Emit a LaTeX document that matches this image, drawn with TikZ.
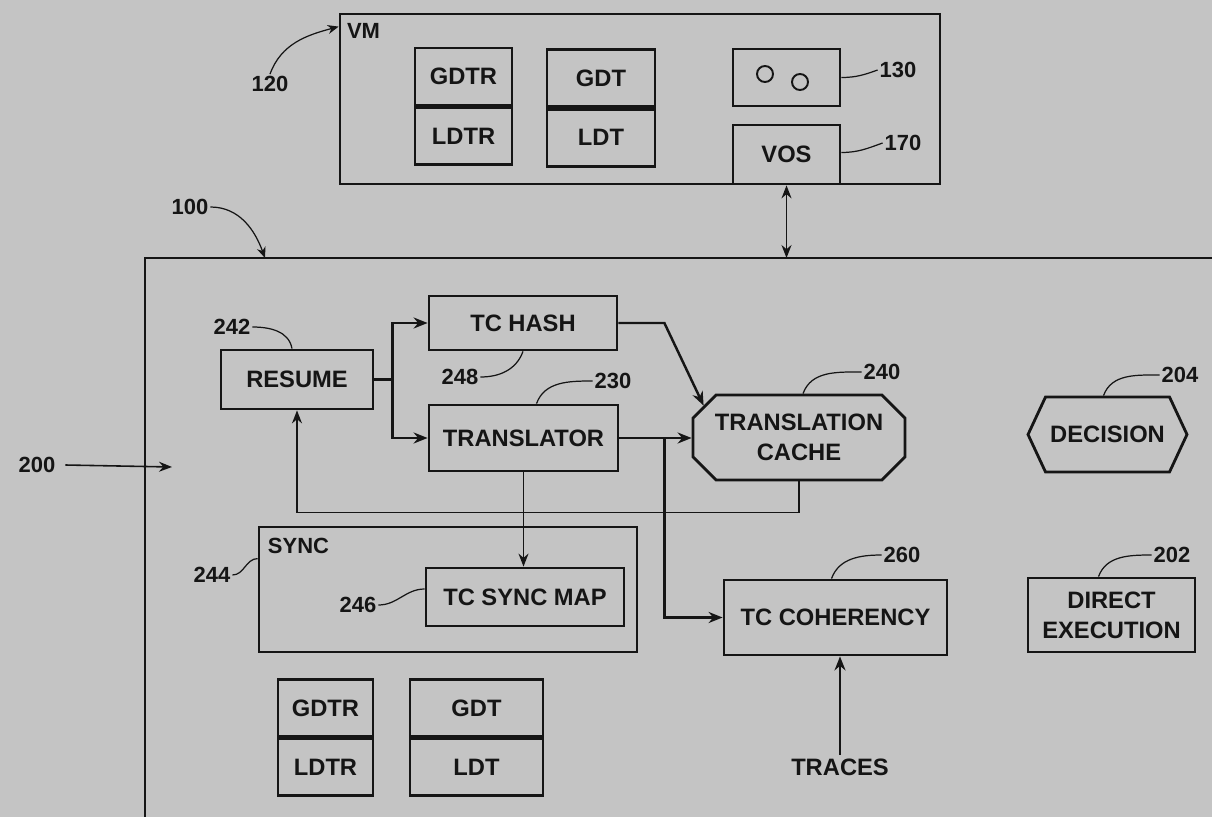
\documentclass[tikz,border=0pt]{standalone}
\usepackage{fontspec}
\setmainfont{Liberation Sans}
\usetikzlibrary{arrows.meta, calc, positioning, shapes.misc, shapes.symbols}
\definecolor{ScanGray}{HTML}{C4C4C4}
\definecolor{InkBlack}{HTML}{151515}

\tikzset{
  box/.style={draw=InkBlack, line width=1.6pt, inner sep=0pt, align=center,
    text=InkBlack, font=\fontsize{13.5}{17}\selectfont\bfseries},
  reg/.style={box, minimum height=1.14cm},
  num/.style={text=InkBlack, font=\fontsize{12.5}{14}\selectfont\bfseries, inner sep=1pt},
  conn/.style={draw=InkBlack, line width=1.4pt, -{Stealth[length=0.28cm,width=0.22cm]}},
  wire/.style={draw=InkBlack, line width=0.9pt, -{Stealth[length=0.26cm,width=0.2cm]}},
  leader/.style={draw=InkBlack, line width=0.7pt},
}

\begin{document}
\begin{tikzpicture}[x=0.02cm, y=-0.02cm]
    % Scan background
    \fill[ScanGray] (0,0) rectangle (1212,817);
    \useasboundingbox (0,0) rectangle (1212,817);

    % VM block
    \node[box, minimum width=12cm, minimum height=3.4cm] (vm) at (640,99) {};
    \node[anchor=north west, inner sep=0pt, text=InkBlack,
        font=\fontsize{12.5}{15}\selectfont\bfseries] (vmlbl)
        at ($(vm.north west)+(8,10)$) {VM};
    \node[reg, minimum width=1.94cm] (gdtrA) at (463.5,76.5) {GDTR};
    \node[reg, minimum width=1.94cm, below=0pt of gdtrA] (ldtrA) {LDTR};
    \node[reg, minimum width=2.16cm] (gdtA) at (601,78) {GDT};
    \node[reg, minimum width=2.16cm, below=0pt of gdtA] (ldtA) {LDT};
    \node[box, minimum width=2.14cm, minimum height=1.14cm] (circ) at (786.5,77.5) {};
    \draw[InkBlack, line width=1.1pt] ($(circ.center)+(-21.5,-3.5)$) circle (0.16cm);
    \draw[InkBlack, line width=1.1pt] ($(circ.center)+(13.5,4.5)$) circle (0.16cm);
    \node[box, minimum width=2.14cm, minimum height=1.18cm, anchor=south] (vos)
        at (vm.south -| circ) {VOS};

    \node[num] (l120) at (270,84) {120};
    \draw[leader, -{Stealth[length=0.22cm,width=0.18cm]}] (l120.north) to[out=70, in=195]
        ($(vm.north west)+(0,14)$);
    \node[num] (l130) at (898,70) {130};
    \draw[leader] (l130.west) to[out=200, in=0] (circ.east);
    \node[num] (l170) at (903,143) {170};
    \draw[leader] (l170.west) to[out=200, in=0] ($(vos.east)+(0,-2)$);

    % Main frame (cut off at right and bottom)
    \coordinate (mainNW) at (145,258);
    \draw[InkBlack, line width=1.6pt] (145,817) -- (mainNW) -- (1212,258);
    \coordinate (maintop) at (vos.south |- mainNW);
    \draw[wire, {Stealth[length=0.26cm,width=0.2cm]}-{Stealth[length=0.26cm,width=0.2cm]}]
        (vos.south) -- (maintop);

    \node[num] (l100) at (190,207) {100};
    \draw[leader, -{Stealth[length=0.22cm,width=0.18cm]}] (l100.east) to[out=0, in=110]
        ($(mainNW)+(120,0)$);
    \node[num] (l200) at (37,465) {200};
    \coordinate (into) at (172,467);
    \draw[wire] ($(l200.east)+(8,0)$) -- (into);

    % Translation path
    \node[box, minimum width=3.04cm, minimum height=1.18cm] (resume) at (297,379.5) {RESUME};
    \node[box, minimum width=3.76cm, minimum height=1.08cm] (tchash) at (523,323) {TC HASH};
    \node[box, minimum width=3.78cm, minimum height=1.32cm] (translator) at (523.5,438) {TRANSLATOR};
    \node[box, chamfered rectangle, chamfered rectangle xsep=0.34cm,
        minimum width=4.24cm, minimum height=1.7cm] (tcache) at (799,437.5)
        {TRANSLATION\\CACHE};
    \node[box, signal, signal to=east and west, signal pointer angle=130,
        minimum width=3.18cm, minimum height=1.5cm] (decision) at (1107.5,434.5) {DECISION};

    \node[num] (l242) at (232,327) {242};
    \draw[leader] (l242.east) to[out=0, in=100] ($(resume.north)+(-5,0)$);
    \node[num] (l248) at (460,377) {248};
    \draw[leader] (l248.east) to[out=0, in=-110] (tchash.south);
    \node[num] (l230) at (613,381) {230};
    \draw[leader] (l230.west) to[out=180, in=70] ($(translator.north)+(13,0)$);
    \node[num] (l240) at (882,372) {240};
    \draw[leader] (l240.west) to[out=180, in=70] ($(tcache.north)+(4,0)$);
    \node[num] (l204) at (1180,375) {204};
    \draw[leader] (l204.west) to[out=180, in=70] ($(decision.north)+(-4,0)$);

    % Sync block
    \node[box, minimum width=7.56cm, minimum height=2.5cm] (sync) at (448,589.5) {};
    \node[anchor=north west, inner sep=0pt, text=InkBlack,
        font=\fontsize{12.5}{15}\selectfont\bfseries] (synclbl)
        at ($(sync.north west)+(10,12)$) {SYNC};
    \node[box, minimum width=3.96cm, minimum height=1.16cm] (tcsync) at (525,597) {TC SYNC MAP};
    \node[num] (l244) at (212,575) {244};
    \draw[leader] (l244.east) to[out=0, in=180] ($(sync.north west)+(0,33)$);
    \node[num] (l246) at (358,605) {246};
    \draw[leader] (l246.east) to[out=0, in=180] ($(tcsync.west)+(0,-8)$);

    % Lower register tables
    \node[reg, minimum width=1.9cm, minimum height=1.13cm] (gdtrB) at (325.5,708) {GDTR};
    \node[reg, minimum width=1.9cm, minimum height=1.13cm, below=0pt of gdtrB] (ldtrB) {LDTR};
    \node[reg, minimum width=2.66cm, minimum height=1.13cm] (gdtB) at (476.5,708) {GDT};
    \node[reg, minimum width=2.66cm, minimum height=1.13cm, below=0pt of gdtB] (ldtB) {LDT};

    % Coherency and direct execution
    \node[box, minimum width=4.46cm, minimum height=1.5cm] (tccoh) at (835.5,617.5) {TC COHERENCY};
    \node[box, minimum width=3.34cm, minimum height=1.48cm] (dexec) at (1111.5,615)
        {DIRECT\\EXECUTION};
    \node[text=InkBlack, font=\fontsize{13.5}{17}\selectfont\bfseries, inner sep=2pt]
        (traces) at (840,767) {TRACES};
    \node[num] (l260) at (902,555) {260};
    \draw[leader] (l260.west) to[out=180, in=70] ($(tccoh.north)+(-4,0)$);
    \node[num] (l202) at (1172,555) {202};
    \draw[leader] (l202.west) to[out=180, in=70] ($(dexec.north)+(-13,0)$);

    % Connectors
    \draw[conn] (resume.east) -- ++(18,0) |- (tchash.west);
    \draw[conn] (resume.east) -- ++(18,0) |- (translator.west);
    \draw[conn] (tchash.east) -- ++(46,0) -- (tcache.north west);
    \draw[conn] (translator.east) -- (translator.east -| tcache.west);
    \coordinate (split) at ($(translator.east)+(45,0)$);
    \draw[conn] (split) |- (tccoh.west);
    \draw[wire] (tcache.south) -- ++(0,31) -| (resume.south);
    \draw[wire] (translator.south) -- (translator.south |- tcsync.north);
    \draw[conn] (traces.north) -- (traces.north |- tccoh.south);
\end{tikzpicture}
\end{document}
